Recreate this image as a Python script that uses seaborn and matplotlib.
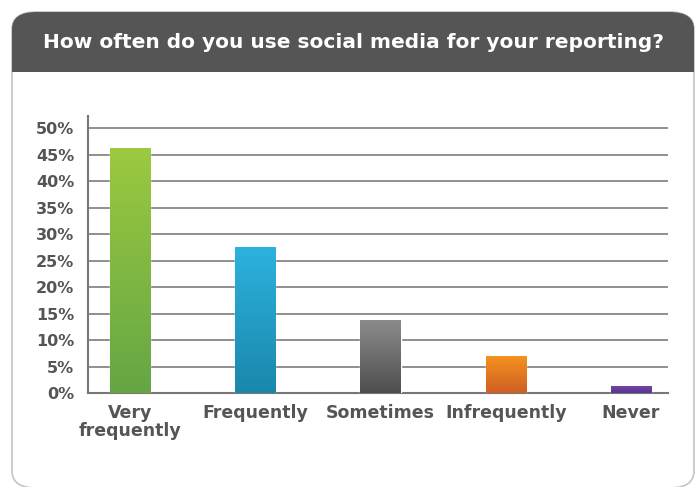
import numpy as np
import pandas as pd
import seaborn as sns
import matplotlib.pyplot as plt
from matplotlib.patches import FancyBboxPatch, Rectangle
from matplotlib.colors import LinearSegmentedColormap

sns.set_theme(style="whitegrid")
plt.rcParams['font.family'] = ['DejaVu Sans']

categories = ["Very\nfrequently", "Frequently", "Sometimes", "Infrequently", "Never"]
values = [46.2, 27.5, 13.8, 7.0, 1.3]
top_colors = ["#9cc93f", "#2db2de", "#8c8c8c", "#f59320", "#7444a6"]
bottom_colors = ["#64a645", "#1a87aa", "#4e4e4e", "#cf5f23", "#58358f"]
yticks = [0, 5, 10, 15, 20, 25, 30, 35, 40, 45, 50]
title = "How often do you use social media for your reporting?"

W, H = 698, 487
fig = plt.figure(figsize=(W / 100, H / 100), dpi=100)

# outer frame and header
frame = FancyBboxPatch((12 / W, 1 - 488 / H), 682 / W, 476 / H,
                       boxstyle="round,pad=0,rounding_size=0.035",
                       transform=fig.transFigure, facecolor="white",
                       edgecolor="#c4c4c4", linewidth=1.2, zorder=-2)
fig.patches.append(frame)
header = Rectangle((0, 1 - 72 / H), 1, 60 / H, transform=fig.transFigure,
                   facecolor="#555555", edgecolor="none", zorder=-1)
header.set_clip_path(frame)
fig.patches.append(header)
fig.text(353 / W, 1 - 42 / H, title, color="white", fontsize=14.5,
         fontweight="bold", ha="center", va="center")

ax = fig.add_axes([88 / W, 1 - 393 / H, 580 / W, 277 / H])
ax.set_zorder(2)
ax.patch.set_alpha(0)
df = pd.DataFrame({"answer": categories, "share": values})
sns.barplot(data=df, x="answer", y="share", hue="answer", palette=bottom_colors,
            legend=False, width=0.32, ax=ax, zorder=3)

# vertical gradient on each bar
for bar, c0, c1 in zip(ax.patches, top_colors, bottom_colors):
    x0, y0 = bar.get_x(), bar.get_y()
    w, h = bar.get_width(), bar.get_height()
    cmap = LinearSegmentedColormap.from_list("g", [c1, c0])
    grad = np.linspace(0, 1, 256).reshape(-1, 1)
    im = ax.imshow(grad, cmap=cmap, aspect="auto", origin="lower",
                   extent=[x0, x0 + w, y0, y0 + h], zorder=4)
    im.set_clip_path(bar)

ax.set_xlim(-0.335, 4.295)
ax.set_ylim(0, 52.3)
ax.set_yticks(yticks)
ax.set_yticklabels([f"{t}%" for t in yticks])
ax.set_xlabel("")
ax.set_ylabel("")
ax.grid(axis="y", color="#8f8f8f", linewidth=1.4)
ax.grid(axis="x", visible=False)
ax.set_axisbelow(True)
for side in ["top", "right"]:
    ax.spines[side].set_visible(False)
for side in ["left", "bottom"]:
    ax.spines[side].set_color("#777777")
    ax.spines[side].set_linewidth(1.5)
ax.tick_params(axis="y", length=0, pad=10, labelsize=11.5, labelcolor="#555555")
ax.tick_params(axis="x", length=0, pad=8, labelsize=12.5, labelcolor="#555555")
for lab in ax.get_yticklabels() + ax.get_xticklabels():
    lab.set_fontweight("bold")
for lab in ax.get_xticklabels():
    lab.set_linespacing(1.0)
    lab.set_verticalalignment("top")

fig.savefig("out.png", dpi=100)
